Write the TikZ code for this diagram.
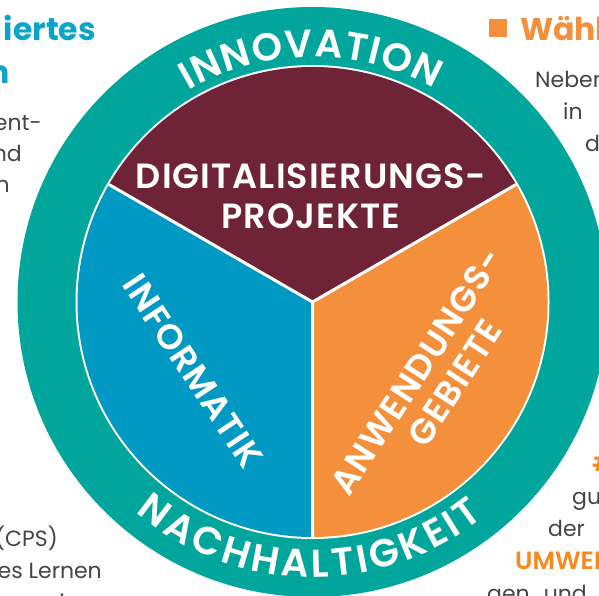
\documentclass[tikz,border=0pt]{standalone}
\usepackage{fontspec}
\setmainfont{Poppins}
\newfontfamily\labfont[LetterSpace=3]{Poppins SemiBold}
\newfontfamily\ringfont{Poppins SemiBold}
\newfontfamily\titlefont{Poppins SemiBold}
\usetikzlibrary{decorations.text,calc}
\definecolor{tealring}{HTML}{00A69C}
\definecolor{maroon}{HTML}{6F2336}
\definecolor{infoblue}{HTML}{0099C3}
\definecolor{appor}{HTML}{F4903C}
\definecolor{emphor}{HTML}{F7891F}
\definecolor{titleblue}{HTML}{0CA3C9}
\definecolor{bodygrey}{HTML}{454545}
\tikzset{
  x=1pt,y=1pt,
  label/.style={text=white,font=\labfont\fontsize{35}{40}\selectfont,align=center,inner sep=0pt},
  body/.style={text=bodygrey,font=\fontsize{22}{26}\selectfont,inner sep=0pt},
  emph/.style={text=emphor,font=\titlefont\fontsize{25}{26}\selectfont,inner sep=0pt},
  titletext/.style={font=\bfseries\fontsize{31.5}{36}\selectfont,inner sep=0pt},
  ringtext/.style={decorate,decoration={text along path,text align=fit to path,text color=white,#1}}
}
\begin{document}
\begin{tikzpicture}
\useasboundingbox (0,-595) rectangle (599,0);
\clip (0,-595) rectangle (599,0);
\fill[white] (0,-595) rectangle (599,0);
\coordinate (c) at (312.5,-302);
% side text
\node[titletext,text=titleblue,anchor=base east] (t1) at (96,-40) {iertes};
\node[titletext,text=titleblue,anchor=base east] (t2) at (10,-83) {n};
\node[body,anchor=base east] (l1) at (42,-130) {ent-};
\node[body,anchor=base east] (l2) at (22,-161) {nd};
\node[body,anchor=base east] (l3) at (10,-192) {n};
\node[body,anchor=base east] (l4) at (58,-546) {(CPS)};
\node[body,anchor=base east] (l5) at (102,-578) {es Lernen};
\node[body,anchor=base] (l6) at (62,-610) {i};
\fill[appor] (489,-37) rectangle (507,-19);
\node[titletext,text=appor,anchor=base west] (t3) at (520,-40) {Wählen};
\node[body,anchor=base west] (r1) at (535,-87) {Neben};
\node[body,anchor=base west] (r2) at (563,-119) {in};
\node[body,anchor=base west] (r3) at (585,-151) {d};
\node[emph,anchor=base west] (r4) at (592,-471) {\#};
\node[body,anchor=base west] (r5) at (572,-504) {gu};
\node[body,anchor=base west] (r6) at (548,-536) {der};
\node[emph,anchor=base west] (r7) at (515,-569) {UMWELT};
\node[body,anchor=base west] (r8) at (487,-601) {gen\hspace{14pt}und};
% rings
\fill[tealring] (c) circle[radius=295];
\fill[white] (c) circle[radius=237];
% sectors
\fill[maroon] (c) -- ++(150:235) arc[start angle=150,end angle=30,radius=235] -- cycle;
\fill[infoblue] (c) -- ++(270:235) arc[start angle=270,end angle=150,radius=235] -- cycle;
\fill[appor] (c) -- ++(30:235) arc[start angle=30,end angle=-90,radius=235] -- cycle;
\draw[draw=white,line width=3pt,line join=round] (c) -- ++(150:235) (c) -- ++(30:235) (c) -- ++(270:235);
% ring text
\path[ringtext={text={|\ringfont\fontsize{39}{40}\selectfont|INNOVATION}}] ($(c)+(120.5:245)$) arc[start angle=120.5,end angle=60.4,radius=245];
\path[ringtext={text={|\ringfont\fontsize{39}{40}\selectfont|NACHHALTIGKEIT}}] ($(c)+(230:275)$) arc[start angle=230,end angle=308.5,radius=275];
% labels
\node[label] (dig) at (311,-196) {DIGITALISIERUNGS-\\[0pt]PROJEKTE};
\node[label,rotate=-56.5] (inf) at (193,-371) {INFORMATIK};
\node[label,rotate=57] (anw) at (417,-371) {ANWENDUNGS-};
\node[label,rotate=57] (geb) at (455,-383) {GEBIETE};
\end{tikzpicture}
\end{document}
